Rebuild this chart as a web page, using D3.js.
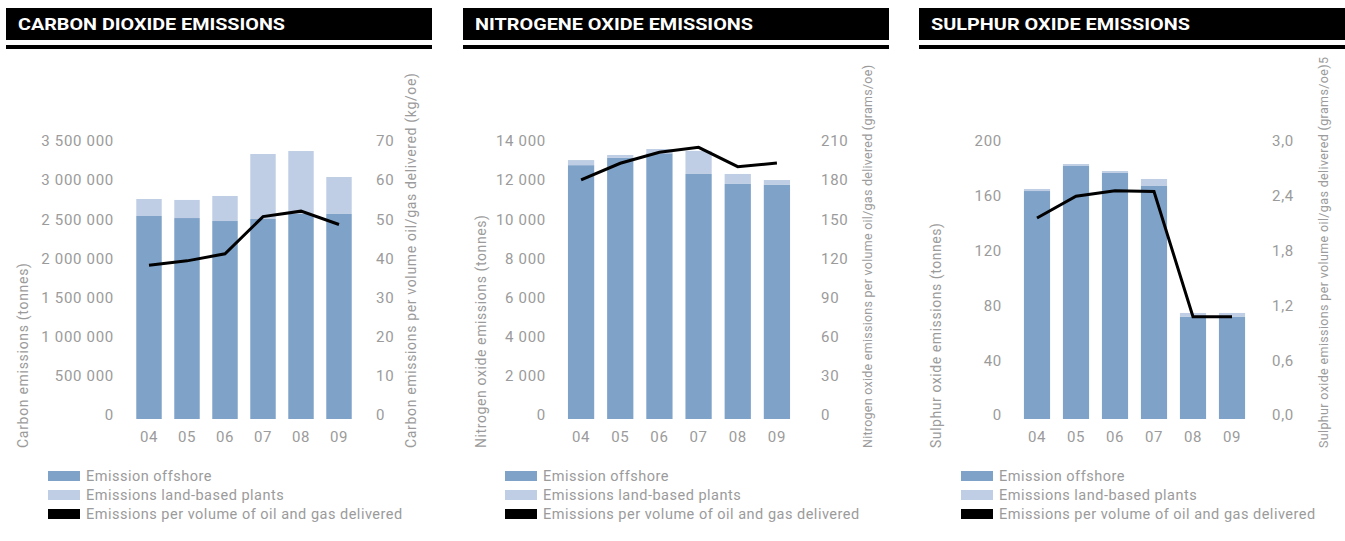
<!DOCTYPE html>
<html>
<head>
<meta charset="utf-8">
<script src="https://cdn.jsdelivr.net/npm/d3@7"></script>
<style>
  html, body { margin: 0; padding: 0; background: #fff; }
  svg { display: block; font-family: Roboto, "Noto Sans", sans-serif; }
</style>
</head>
<body>
<svg id="chart" width="1345" height="541"></svg>
<script>
// Years on the x axis
const years = ["04", "05", "06", "07", "08", "09"];

// Carbon dioxide (tonnes) and kg per oe delivered
const co2Offshore  = [2593000, 2567000, 2529000, 2555000, 2620000, 2619000];
const co2LandBased = [217000, 231000, 320000, 830000, 803000, 472000];
const co2PerVolume = [39.3, 40.4, 42.2, 51.7, 53.1, 49.7];
const co2LeftTicks  = [0, 500000, 1000000, 1500000, 2000000, 2500000, 3000000, 3500000];
const co2RightTicks = [0, 10, 20, 30, 40, 50, 60, 70];

// Nitrogen oxides (tonnes) and grams per oe delivered
const noxOffshore  = [12970, 13340, 13575, 12520, 12010, 11960];
const noxLandBased = [260, 150, 220, 1180, 510, 250];
const noxPerVolume = [183.2, 196.0, 204.4, 208.2, 193.4, 196.2];
const noxLeftTicks  = [0, 2000, 4000, 6000, 8000, 10000, 12000, 14000];
const noxRightTicks = [0, 30, 60, 90, 120, 150, 180, 210];

// Sulphur oxides (tonnes) and grams per oe delivered
const soxOffshore  = [166.4, 184.7, 179.6, 170.1, 74.5, 74.5];
const soxLandBased = [1.5, 1.4, 1.4, 5.1, 2.9, 2.9];
const soxPerVolume = [2.20, 2.44, 2.50, 2.49, 1.12, 1.12];
const soxLeftTicks  = [0, 40, 80, 120, 160, 200];
const soxRightTicks = [0, 0.6, 1.2, 1.8, 2.4, 3.0];

const legendLabels = [
  "Emission offshore",
  "Emissions land-based plants",
  "Emissions per volume of oil and gas delivered"
];

const COLOR_OFFSHORE = "#7fa2c8";
const COLOR_LAND = "#bfcee4";
const COLOR_LINE = "#000000";
const COLOR_TEXT = "#9b9b9b";

const locale = d3.formatLocale({ decimal: ",", thousands: " ", grouping: [3], currency: ["", ""] });
const fmtInt = locale.format(",.0f");
const fmtDec = locale.format(".1f");

const svg = d3.select("#chart");

const panels = [
  {
    title: "CARBON DIOXIDE EMISSIONS", titleWidth: 267,
    offshore: co2Offshore, land: co2LandBased, perVolume: co2PerVolume,
    leftTicks: co2LeftTicks, rightTicks: co2RightTicks,
    leftFmt: fmtInt, rightFmt: fmtInt,
    leftTitle: "Carbon emissions (tonnes)", leftTitleLen: 185,
    rightTitle: "Carbon emissions per volume oil/gas delivered (kg/oe)", rightTitleLen: 375,
    rightTitleSize: 14,
    header: [6, 432], bars: [130, 358],
    leftAxisX: 114, rightAxisX: 376, leftTitleX: 23, rightTitleX: 411, legendX: 48
  },
  {
    title: "NITROGENE OXIDE EMISSIONS", titleWidth: 278,
    offshore: noxOffshore, land: noxLandBased, perVolume: noxPerVolume,
    leftTicks: noxLeftTicks, rightTicks: noxRightTicks,
    leftFmt: fmtInt, rightFmt: fmtInt,
    leftTitle: "Nitrogen oxide emissions (tonnes)", leftTitleLen: 233,
    rightTitle: "Nitrogen oxide emissions per volume oil/gas delivered (grams/oe)", rightTitleLen: 383,
    rightTitleSize: 12.5,
    header: [463, 889], bars: [561.5, 796.5],
    leftAxisX: 546, rightAxisX: 821, leftTitleX: 481, rightTitleX: 868, legendX: 505
  },
  {
    title: "SULPHUR OXIDE EMISSIONS", titleWidth: 259,
    offshore: soxOffshore, land: soxLandBased, perVolume: soxPerVolume,
    leftTicks: soxLeftTicks, rightTicks: soxRightTicks,
    leftFmt: fmtInt, rightFmt: fmtDec,
    leftTitle: "Sulphur oxide emissions (tonnes)", leftTitleLen: 225,
    rightTitle: "Sulphur oxide emissions per volume oil/gas delivered (grams/oe)5", rightTitleLen: 391,
    rightTitleSize: 12.5,
    header: [919, 1345], bars: [1017.5, 1251.5],
    leftAxisX: 1002, rightAxisX: 1272, leftTitleX: 936, rightTitleX: 1324, legendX: 961
  }
];

const PLOT_BOTTOM = 419;
const PLOT_TOP = 145;

panels.forEach(p => {
  const g = svg.append("g");

  // Header band with title and rule beneath
  g.append("rect")
    .attr("x", p.header[0]).attr("y", 8)
    .attr("width", p.header[1] - p.header[0]).attr("height", 32)
    .attr("fill", "#000");
  g.append("rect")
    .attr("x", p.header[0]).attr("y", 45)
    .attr("width", p.header[1] - p.header[0]).attr("height", 4)
    .attr("fill", "#000");
  g.append("text")
    .attr("x", p.header[0] + 12).attr("y", 30)
    .attr("fill", "#fff")
    .attr("font-size", 16).attr("font-weight", 700)
    .attr("textLength", p.titleWidth)
    .attr("lengthAdjust", "spacingAndGlyphs")
    .text(p.title);

  const x = d3.scaleBand()
    .domain(years)
    .range(p.bars)
    .paddingInner(0.33)
    .paddingOuter(0.165);

  const yLeft = d3.scaleLinear()
    .domain([0, p.leftTicks[p.leftTicks.length - 1]])
    .range([PLOT_BOTTOM, PLOT_TOP]);
  const yRight = d3.scaleLinear()
    .domain([0, p.rightTicks[p.rightTicks.length - 1]])
    .range([PLOT_BOTTOM, PLOT_TOP]);

  const rows = years.map((yr, i) => ({
    year: yr, offshore: p.offshore[i], land: p.land[i], perVolume: p.perVolume[i]
  }));

  const stacked = d3.stack().keys(["offshore", "land"])(rows);
  const colors = { offshore: COLOR_OFFSHORE, land: COLOR_LAND };

  g.selectAll("g.series")
    .data(stacked)
    .join("g")
    .attr("class", "series")
    .attr("fill", s => colors[s.key])
    .selectAll("rect")
    .data(s => s)
    .join("rect")
    .attr("x", d => x(d.data.year))
    .attr("width", x.bandwidth())
    .attr("y", d => yLeft(d[1]))
    .attr("height", d => yLeft(d[0]) - yLeft(d[1]));

  // Emissions per volume delivered
  const line = d3.line()
    .x(d => x(d.year) + x.bandwidth() / 2)
    .y(d => yRight(d.perVolume));
  g.append("path")
    .datum(rows)
    .attr("fill", "none")
    .attr("stroke", COLOR_LINE)
    .attr("stroke-width", 3)
    .attr("stroke-linejoin", "miter")
    .attr("d", line);

  // Left axis
  const leftAxis = d3.axisLeft(yLeft)
    .tickValues(p.leftTicks)
    .tickFormat(p.leftFmt)
    .tickSize(0).tickPadding(0);
  const la = g.append("g")
    .attr("transform", `translate(${p.leftAxisX},-4)`)
    .call(leftAxis);
  // Right axis
  const rightAxis = d3.axisRight(yRight)
    .tickValues(p.rightTicks)
    .tickFormat(p.rightFmt)
    .tickSize(0).tickPadding(0);
  const ra = g.append("g")
    .attr("transform", `translate(${p.rightAxisX},-4)`)
    .call(rightAxis);
  // Category axis
  const bottomAxis = d3.axisBottom(x).tickSize(0).tickPadding(0);
  const ba = g.append("g")
    .attr("transform", `translate(0,431)`)
    .call(bottomAxis);

  [la, ra, ba].forEach(a => {
    a.select(".domain").remove();
    a.selectAll("text")
      .attr("fill", COLOR_TEXT)
      .attr("font-size", 15)
      .attr("letter-spacing", "0.7px")
      .attr("font-family", "Roboto, sans-serif");
  });

  // Axis titles
  g.append("text")
    .attr("transform", `translate(${p.leftTitleX},448) rotate(-90)`)
    .attr("dy", "0.35em")
    .attr("fill", COLOR_TEXT)
    .attr("font-size", 14)
    .attr("textLength", p.leftTitleLen)
    .attr("lengthAdjust", "spacing")
    .text(p.leftTitle);
  g.append("text")
    .attr("transform", `translate(${p.rightTitleX},448) rotate(-90)`)
    .attr("dy", "0.35em")
    .attr("fill", COLOR_TEXT)
    .attr("font-size", p.rightTitleSize)
    .attr("textLength", p.rightTitleLen)
    .attr("lengthAdjust", "spacing")
    .text(p.rightTitle);

  // Legend
  const legendColors = [COLOR_OFFSHORE, COLOR_LAND, COLOR_LINE];
  const lg = g.append("g");
  legendLabels.forEach((lab, i) => {
    const yy = 471 + i * 19;
    lg.append("rect")
      .attr("x", p.legendX).attr("y", yy)
      .attr("width", 32).attr("height", 10)
      .attr("fill", legendColors[i]);
    lg.append("text")
      .attr("x", p.legendX + 38).attr("y", yy + 5)
      .attr("dy", "0.35em")
      .attr("fill", COLOR_TEXT)
      .attr("font-size", 14.5)
      .attr("letter-spacing", "0.5px")
      .text(lab);
  });
});
</script>
</body>
</html>
